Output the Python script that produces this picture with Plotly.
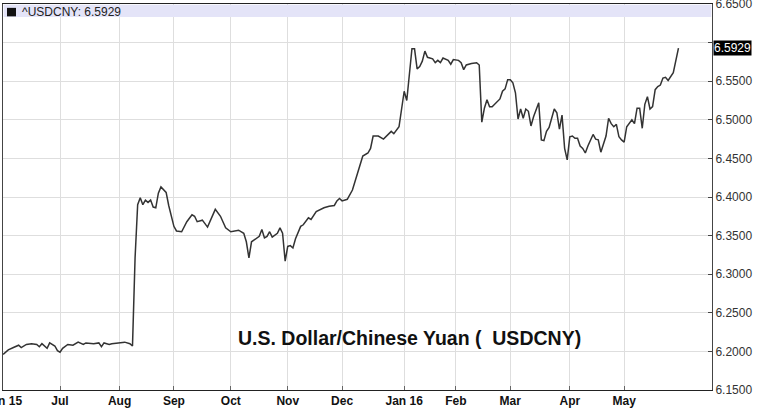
import plotly.graph_objects as go

# ---- data ----
dates = [
    "2015-06-01", "2015-06-03", "2015-06-05", "2015-06-09", "2015-06-10", "2015-06-12",
    "2015-06-16", "2015-06-18", "2015-06-19", "2015-06-22", "2015-06-24", "2015-06-25",
    "2015-06-29", "2015-06-30",
    "2015-07-01", "2015-07-02", "2015-07-06", "2015-07-08", "2015-07-10", "2015-07-14",
    "2015-07-15", "2015-07-20", "2015-07-22", "2015-07-23", "2015-07-24", "2015-07-28",
    "2015-07-29", "2015-07-31",
    "2015-08-05", "2015-08-07", "2015-08-10", "2015-08-11", "2015-08-12", "2015-08-13",
    "2015-08-14", "2015-08-17", "2015-08-18", "2015-08-19", "2015-08-20", "2015-08-21",
    "2015-08-24", "2015-08-25", "2015-08-26", "2015-08-27", "2015-08-28", "2015-08-31",
    "2015-09-01", "2015-09-02", "2015-09-03", "2015-09-04", "2015-09-08", "2015-09-10",
    "2015-09-11", "2015-09-14", "2015-09-16", "2015-09-18", "2015-09-23", "2015-09-25",
    "2015-09-29",
    "2015-10-01", "2015-10-06", "2015-10-08", "2015-10-09", "2015-10-12", "2015-10-13",
    "2015-10-15", "2015-10-16", "2015-10-19", "2015-10-20", "2015-10-21", "2015-10-22",
    "2015-10-23", "2015-10-27", "2015-10-28", "2015-10-29", "2015-10-30",
    "2015-11-02", "2015-11-03", "2015-11-04", "2015-11-05", "2015-11-09", "2015-11-10",
    "2015-11-11", "2015-11-12", "2015-11-13", "2015-11-17", "2015-11-20", "2015-11-24",
    "2015-11-26", "2015-11-27", "2015-11-30",
    "2015-12-01", "2015-12-03", "2015-12-07", "2015-12-09", "2015-12-11", "2015-12-15",
    "2015-12-16", "2015-12-17", "2015-12-21", "2015-12-23", "2015-12-24", "2015-12-28",
    "2015-12-29", "2015-12-30", "2015-12-31",
    "2016-01-04", "2016-01-05", "2016-01-07", "2016-01-08", "2016-01-11", "2016-01-12",
    "2016-01-13", "2016-01-14", "2016-01-15", "2016-01-18", "2016-01-19", "2016-01-20",
    "2016-01-21", "2016-01-22", "2016-01-25", "2016-01-27", "2016-01-28", "2016-01-29",
    "2016-02-02", "2016-02-03", "2016-02-04", "2016-02-05", "2016-02-09", "2016-02-11",
    "2016-02-12", "2016-02-15", "2016-02-16", "2016-02-17", "2016-02-18", "2016-02-19",
    "2016-02-23", "2016-02-24", "2016-02-25", "2016-02-26", "2016-02-29",
    "2016-03-01", "2016-03-02", "2016-03-03", "2016-03-04", "2016-03-07", "2016-03-08",
    "2016-03-09", "2016-03-10", "2016-03-11", "2016-03-14", "2016-03-16", "2016-03-17",
    "2016-03-18", "2016-03-21", "2016-03-22", "2016-03-24", "2016-03-25", "2016-03-28",
    "2016-03-29", "2016-03-30", "2016-03-31",
    "2016-04-01", "2016-04-04", "2016-04-05", "2016-04-06", "2016-04-07", "2016-04-08",
    "2016-04-11", "2016-04-12", "2016-04-14", "2016-04-15", "2016-04-18", "2016-04-19",
    "2016-04-21", "2016-04-22", "2016-04-25", "2016-04-26", "2016-04-27", "2016-04-28",
    "2016-04-29",
    "2016-05-02", "2016-05-03", "2016-05-04", "2016-05-05", "2016-05-06", "2016-05-09",
    "2016-05-10", "2016-05-11", "2016-05-12", "2016-05-13", "2016-05-16", "2016-05-17",
    "2016-05-18", "2016-05-19", "2016-05-20", "2016-05-23", "2016-05-24", "2016-05-25",
    "2016-05-27", "2016-05-31",
]

usdcny = [
    6.196, 6.202, 6.205, 6.208, 6.205, 6.209,
    6.210, 6.209, 6.206, 6.210, 6.204, 6.211,
    6.207, 6.201,
    6.199, 6.204, 6.209, 6.208, 6.212, 6.209,
    6.211, 6.210, 6.211, 6.206, 6.211, 6.209,
    6.210, 6.211,
    6.212, 6.210, 6.207, 6.321, 6.390, 6.399,
    6.390, 6.396, 6.393, 6.396, 6.387, 6.386,
    6.405, 6.413, 6.410, 6.406, 6.389, 6.375,
    6.362, 6.356, 6.355, 6.355, 6.368, 6.377,
    6.375, 6.368, 6.370, 6.361, 6.384, 6.375,
    6.360,
    6.355, 6.357, 6.353, 6.342, 6.321, 6.342,
    6.347, 6.349, 6.358, 6.347, 6.349, 6.355,
    6.348, 6.353, 6.360, 6.353, 6.317,
    6.336, 6.337, 6.334, 6.346, 6.362, 6.364,
    6.368, 6.373, 6.371, 6.381, 6.386, 6.388,
    6.389, 6.395, 6.398,
    6.395, 6.397, 6.409, 6.431, 6.453, 6.457,
    6.463, 6.479, 6.479, 6.475, 6.478, 6.485,
    6.482, 6.487, 6.491,
    6.537, 6.525, 6.592, 6.592, 6.566, 6.569,
    6.576, 6.589, 6.581, 6.580, 6.579, 6.574,
    6.577, 6.574, 6.580, 6.577, 6.572, 6.578,
    6.577, 6.574, 6.565, 6.571, 6.573, 6.574,
    6.571, 6.497, 6.515, 6.526, 6.517, 6.517,
    6.524, 6.527, 6.537, 6.540, 6.552,
    6.552, 6.548, 6.535, 6.501, 6.514, 6.502,
    6.514, 6.511, 6.492, 6.504, 6.522, 6.474,
    6.473, 6.485, 6.490, 6.514, 6.509, 6.488,
    6.506, 6.463, 6.448,
    6.478, 6.479, 6.476, 6.476, 6.466, 6.463,
    6.457, 6.466, 6.481, 6.475, 6.474, 6.458,
    6.479, 6.502, 6.495, 6.491, 6.494, 6.478,
    6.474,
    6.471, 6.491, 6.496, 6.500, 6.495, 6.515,
    6.515, 6.489, 6.520, 6.530, 6.514, 6.517,
    6.539, 6.543, 6.545, 6.554, 6.555, 6.551,
    6.561, 6.5929,
]

x_tick_vals = ["2015-06-01", "2015-07-01", "2015-08-03", "2015-09-01", "2015-10-01",
               "2015-11-02", "2015-12-01", "2016-01-04", "2016-02-01", "2016-03-01",
               "2016-04-01", "2016-05-02"]
x_tick_text = ["Jun 15", "Jul", "Aug", "Sep", "Oct", "Nov", "Dec", "Jan 16", "Feb", "Mar",
               "Apr", "May"]

y_tick_vals = [6.15, 6.20, 6.25, 6.30, 6.35, 6.40, 6.45, 6.50, 6.55, 6.60, 6.65]
y_tick_text = ["6.1500", "6.2000", "6.2500", "6.3000", "6.3500", "6.4000", "6.4500",
               "6.5000", "6.5500", "", "6.6500"]

symbol = "^USDCNY"
title_text = "U.S. Dollar/Chinese Yuan (\u00a0\u00a0USDCNY)"

FONT = "Liberation Sans, Arial, sans-serif"
last = usdcny[-1]

fig = go.Figure()
fig.add_trace(go.Scatter(
    x=dates, y=usdcny, mode="lines",
    line=dict(color="#333333", width=1.5),
    hoverinfo="x+y", showlegend=False,
))

fig.update_layout(
    width=758, height=408,
    margin=dict(l=3, r=46, t=4, b=18),
    paper_bgcolor="white", plot_bgcolor="white",
    font=dict(family=FONT, size=12, color="#222"),
    showlegend=False,
    xaxis=dict(
        type="date",
        range=["2015-05-29 23:00", "2016-06-16 23:00"],
        rangebreaks=[dict(bounds=["sat", "mon"])],
        tickmode="array", tickvals=x_tick_vals, ticktext=x_tick_text,
        tickfont=dict(family=FONT, size=12, color="#111", weight="bold"),
        ticklabeloverflow="allow",
        showgrid=True, gridcolor="#dedede", gridwidth=1,
        showline=True, linecolor="#222", linewidth=1, mirror=True,
        ticks="inside", ticklen=4, tickcolor="#666",
        zeroline=False, automargin=False,
    ),
    yaxis=dict(
        side="right",
        range=[6.15, 6.65],
        tickmode="array", tickvals=y_tick_vals, ticktext=y_tick_text,
        tickfont=dict(family=FONT, size=12, color="#333"),
        ticklabeloverflow="allow",
        showgrid=True, gridcolor="#dedede", gridwidth=1,
        showline=True, linecolor="#444", linewidth=1, mirror=True,
        ticks="inside", ticklen=4, tickcolor="#444",
        zeroline=False, automargin=False,
    ),
)

# header band with symbol label
fig.add_shape(type="rect", xref="paper", yref="paper",
              x0=0.001, x1=0.999, y0=0.966, y1=0.998,
              fillcolor="#e4e4f8", line=dict(width=0), layer="above")
fig.add_shape(type="rect", xref="paper", yref="paper",
              x0=0.0056, x1=0.0183, y0=0.968, y1=0.990,
              fillcolor="#111", line=dict(width=0), layer="above")
fig.add_annotation(xref="paper", yref="paper", x=0.024, y=0.980,
                   xanchor="left", yanchor="middle", showarrow=False,
                   text=f"{symbol}: {last:.4f}",
                   font=dict(family=FONT, size=12, color="#222"))

# last price box on the right axis
fig.add_annotation(xref="paper", yref="y", x=1, y=last, xanchor="left", yanchor="middle",
                   xshift=1, showarrow=False, text=f"{last:.4f}",
                   font=dict(family=FONT, size=12, color="white"),
                   bgcolor="black", borderpad=0)

# chart title
fig.add_annotation(xref="paper", yref="paper", x=0.573, y=0.1355,
                   xanchor="center", yanchor="middle", showarrow=False,
                   text=title_text,
                   font=dict(family=FONT, size=19.5, color="#111", weight="bold"))

fig.write_html(
    "out.html",
    config={"displayModeBar": False},
    post_script="document.body.style.margin='0';document.body.style.overflow='hidden';",
)
